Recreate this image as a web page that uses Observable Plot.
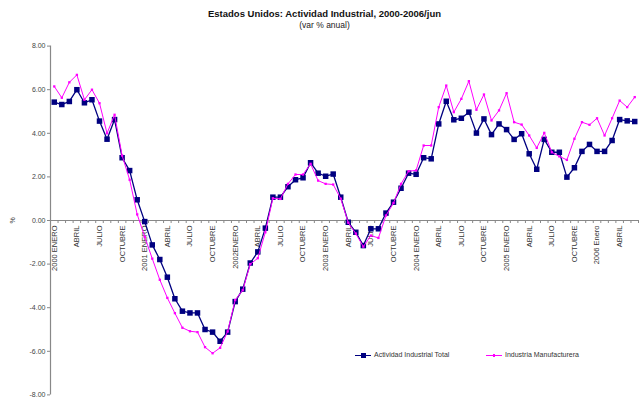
<!DOCTYPE html>
<html>
<head>
<meta charset="utf-8">
<script src="https://cdn.jsdelivr.net/npm/d3@7"></script>
<script src="https://cdn.jsdelivr.net/npm/@observablehq/plot@0.6"></script>
<style>
  body { margin: 0; background: #fff; width: 639px; height: 400px; overflow: hidden; position: relative;
         font-family: "Liberation Sans", Arial, sans-serif; }
  #hdr { height: 36px; position: relative; }
  #title { position: absolute; left: 10px; right: 0; top: 8px; text-align: center;
           font: bold 9.5px "Liberation Sans Narrow", "Liberation Sans", Arial, sans-serif; color: #111; line-height: 12px; }
  #sub { position: absolute; left: 10px; right: 0; top: 20px; text-align: center;
         font: 8.5px "Liberation Sans Narrow", "Liberation Sans", Arial, sans-serif; color: #222; line-height: 11px; }
  #legend { position: absolute; top: 350px; left: 355px; height: 10px; font-size: 7px; color: #333; }
  .item { position: absolute; top: 0; white-space: nowrap; line-height: 10px; }
  .sw { position: absolute; top: 5px; height: 0; }
  .mk { position: absolute; }
  .lab { position: absolute; top: 0; }
</style>
</head>
<body>
<div id="hdr">
  <div id="title">Estados Unidos: Actividad Industrial, 2000-2006/jun</div>
  <div id="sub">(var % anual)</div>
</div>
<div id="chart"></div>
<div id="legend"></div>
<script>
// ---- data (monthly, Jan 2000 – Jun 2006) ----
const seriesNames = ["Actividad Industrial Total", "Industria Manufacturera"];
const seriesColors = ["#000080", "#FF00FF"];

const actividadTotal = [
  5.43, 5.32, 5.46, 6.00, 5.40, 5.54, 4.56, 3.73, 4.63, 2.88, 2.29, 0.95,
  -0.05, -1.12, -1.79, -2.60, -3.59, -4.16, -4.24, -4.24, -5.00, -5.12, -5.54, -5.12,
  -3.72, -3.15, -1.95, -1.44, -0.35, 1.07, 1.07, 1.55, 1.87, 1.96, 2.65, 2.17,
  2.03, 2.13, 1.07, -0.08, -0.54, -1.15, -0.38, -0.38, 0.34, 0.84, 1.48, 2.17,
  2.12, 2.88, 2.83, 4.43, 5.47, 4.62, 4.69, 4.97, 4.01, 4.66, 3.94, 4.43,
  4.17, 3.72, 3.98, 3.06, 2.35, 3.72, 3.13, 3.13, 1.99, 2.42, 3.17, 3.49,
  3.17, 3.17, 3.67, 4.63, 4.57, 4.54
];
const manufacturera = [
  6.15, 5.63, 6.34, 6.68, 5.54, 6.00, 5.38, 4.00, 4.85, 2.98, 1.87, 0.28,
  -0.75, -1.75, -2.72, -3.55, -4.25, -4.92, -5.08, -5.12, -5.81, -6.09, -5.84, -5.09,
  -3.65, -3.20, -2.00, -1.73, -0.54, 1.02, 0.99, 1.68, 2.11, 2.11, 2.60, 1.83,
  1.68, 1.65, 1.00, -0.10, -0.60, -1.20, -0.69, -0.80, 0.23, 0.80, 1.68, 2.26,
  2.30, 3.44, 3.44, 5.20, 6.19, 4.97, 5.58, 6.39, 5.08, 5.78, 4.59, 5.05,
  5.84, 4.51, 4.40, 3.90, 3.33, 4.02, 3.13, 2.94, 2.78, 3.75, 4.51, 4.39,
  4.69, 3.90, 4.69, 5.50, 5.20, 5.66
];
// category labels shown every 3 months (ENERO, ABRIL, JULIO, OCTUBRE)
const quarterLabels = [
  "2000 ENERO", "ABRIL", "JULIO", "OCTUBRE",
  "2001 ENERO", "ABRIL", "JULIO", "OCTUBRE",
  "2002ENERO", "ABRIL", "JULIO", "OCTUBRE",
  "2003 ENERO", "ABRIL", "JULIO", "OCTUBRE",
  "2004 ENERO", "ABRIL", "JULIO", "OCTUBRE",
  "2005 ENERO", "ABRIL", "JULIO", "OCTUBRE",
  "2006 Enero", "ABRIL"
];
const yTicks = [-8, -6, -4, -2, 0, 2, 4, 6, 8];
const monthsPerLabel = 3;

// ---- derived tables ----
const nMonths = actividadTotal.length;
const totalRows = actividadTotal.map((v, i) => ({i, v}));
const manuRows = manufacturera.map((v, i) => ({i, v}));
const labelRows = quarterLabels.map((t, k) => ({i: k * monthsPerLabel, t}));
const bounds = d3.range(nMonths + 1).map(k => k - 0.5);

const chart = Plot.plot({
  width: 639,
  height: 364,
  marginLeft: 50,
  marginRight: 1,
  marginTop: 9.6,
  marginBottom: 5.6,
  style: {fontFamily: "Liberation Sans, Arial, sans-serif", background: "#fff", overflow: "visible", color: "#444"},
  x: {domain: [-0.5, nMonths - 0.5], axis: null},
  y: {domain: [-8, 8]},
  marks: [
    Plot.axisY({
      ticks: yTicks, tickFormat: d => d.toFixed(2), tickSize: 3, tickPadding: 2,
      fontSize: 7, fill: "#444", stroke: "#888",
      label: "%", labelAnchor: "center", labelOffset: 40, labelArrow: "none"
    }),
    Plot.ruleX([-0.5], {stroke: "#888", strokeWidth: 1.2}),
    Plot.ruleY([0], {stroke: "#888", strokeWidth: 1.2}),
    Plot.ruleX(bounds, {x: d => d, y1: 0, y2: 0, insetBottom: -3, stroke: "#888"}),
    Plot.text(labelRows, {
      x: "i", y: 0, text: "t", rotate: -90, textAnchor: "end", dy: 5,
      fontSize: 7.5, fill: "#333"
    }),
    Plot.line(totalRows, {x: "i", y: "v", stroke: seriesColors[0], strokeWidth: 1.3}),
    Plot.dot(totalRows, {x: "i", y: "v", symbol: "square", r: 3.1, fill: seriesColors[0], stroke: "none"}),
    Plot.line(manuRows, {x: "i", y: "v", stroke: seriesColors[1], strokeWidth: 1}),
    Plot.dot(manuRows, {x: "i", y: "v", symbol: "square", r: 1.3, fill: seriesColors[1], stroke: "none"})
  ]
});
document.getElementById("chart").appendChild(chart);

// ---- legend (HTML, overlaid at bottom of plot area) ----
const legend = document.getElementById("legend");
const legendItems = [
  {name: seriesNames[0], color: seriesColors[0], mk: 5, left: 0},
  {name: seriesNames[1], color: seriesColors[1], mk: 2.5, left: 131}
];
for (const it of legendItems) {
  const d = document.createElement("div");
  d.className = "item";
  d.style.left = it.left + "px";
  d.innerHTML =
    `<div class="sw" style="left:0;width:16px;border-top:1.3px solid ${it.color}"></div>` +
    `<div class="mk" style="left:${8 - it.mk / 2}px;top:${5 - it.mk / 2 + 0.5}px;width:${it.mk}px;height:${it.mk}px;background:${it.color}"></div>` +
    `<span class="lab" style="left:19px">${it.name}</span>`;
  legend.appendChild(d);
}
</script>
</body>
</html>
